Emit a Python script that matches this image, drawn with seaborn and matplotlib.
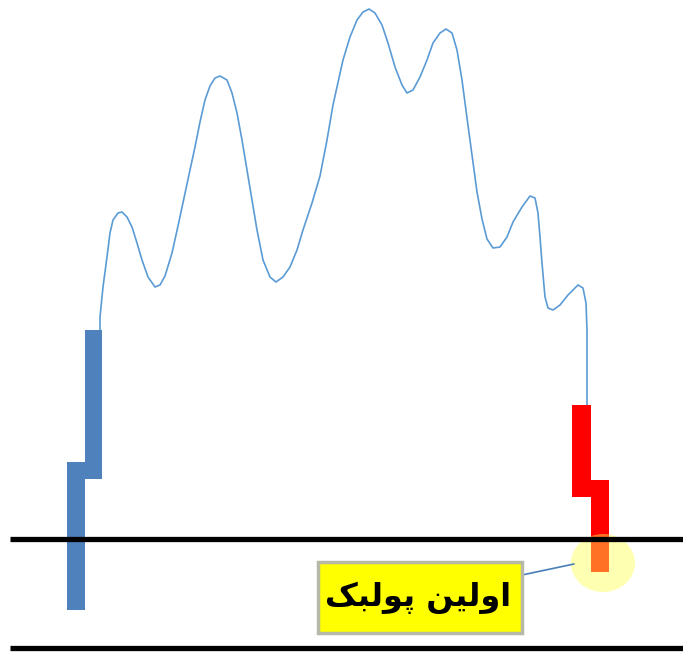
import numpy as np
import pandas as pd
import matplotlib
matplotlib.use("Agg")
import matplotlib.pyplot as plt
import seaborn as sns
from matplotlib.patches import Ellipse, FancyBboxPatch

sns.set_theme(style="white")
plt.rcParams["font.family"] = ["DejaVu Sans"]

# ── Data (pixel-space coordinates, y grows downward) ─────────────
wave_x = [100, 100, 103, 107, 110, 113, 118, 122, 127, 132, 137, 142, 148, 155,
          160, 165, 172, 178, 184, 190, 195, 200, 205, 210, 215, 220, 227, 232,
          237, 242, 247, 252, 257, 263, 270, 276, 283, 290, 297, 303, 312, 320,
          327, 333, 337, 343, 350, 357, 363, 369, 375, 382, 388, 395, 402, 407,
          413, 420, 427, 433, 440, 446, 452, 457, 462, 467, 472, 477, 482, 487,
          493, 500, 507, 513, 522, 530, 535, 538, 540, 542, 545, 548, 553, 560,
          568, 578, 583, 586, 587, 587, 587]
wave_y = [330, 317, 287, 257, 233, 220, 213, 212, 217, 227, 243, 260, 277, 287,
          285, 276, 253, 226, 198, 170, 147, 122, 100, 86, 78, 76, 80, 93,
          113, 140, 170, 200, 230, 260, 277, 282, 277, 267, 250, 230, 203, 176,
          140, 105, 87, 60, 37, 20, 12, 9, 13, 25, 43, 67, 85, 93,
          90, 77, 60, 43, 33, 29, 33, 50, 80, 118, 155, 192, 219, 239,
          248, 247, 237, 222, 207, 196, 198, 213, 237, 263, 297, 308, 310, 305,
          295, 285, 288, 303, 330, 370, 407]

# candle segments: left edge, width, top, bottom
blue_left = [85, 67]
blue_width = [17, 18]
blue_top = [330, 462]
blue_bottom = [479, 610]

red_left = [572, 591]
red_width = [19, 18]
red_top = [405, 480]
red_bottom = [497, 572]

level_y = [539, 648]
label_text = "\uFB8F\uFE92\uFEDF\uFEEE\uFB58 \uFEE6\uFBFF\uFEDF\uFEED\uFE8D"  # اولین پولبک

W, H = 683, 655
fig = plt.figure(figsize=(W / 100, H / 100), dpi=100)
ax = fig.add_axes([0, 0, 1, 1])
ax.set_xlim(0, W)
ax.set_ylim(H, 0)
ax.axis("off")

# wave path
wave = pd.DataFrame({"x": wave_x, "y": wave_y})
sns.lineplot(data=wave, x="x", y="y", sort=False, estimator=None, ax=ax,
             color="#5b9bd5", linewidth=1.2, zorder=2)

# candles
ax.bar(blue_left, np.subtract(blue_bottom, blue_top), width=blue_width,
       bottom=blue_top, align="edge", color="#4f81bd", linewidth=0, zorder=3)
ax.bar(red_left, np.subtract(red_bottom, red_top), width=red_width,
       bottom=red_top, align="edge", color="#ff0000", linewidth=0, zorder=3)

# highlight circle
ax.add_patch(Ellipse((603, 563), 64, 58, facecolor="#ffff55", alpha=0.45,
                     edgecolor="none", zorder=4))

# levels
ax.hlines(level_y, 10, W, colors="black", linewidth=3.8, zorder=5)

# callout
ax.plot([522, 574], [575, 564], color="#4a7fb5", linewidth=1.2, zorder=4)
ax.add_patch(FancyBboxPatch((318, 562), 204, 71, boxstyle="square,pad=0",
                            facecolor="#ffff00", edgecolor="#b8b8a8",
                            linewidth=2.5, zorder=5))
ax.text(418, 598, label_text, ha="center", va="center", fontsize=23,
        fontweight="bold", color="black", zorder=6)

fig.savefig("out.png", dpi=100)
